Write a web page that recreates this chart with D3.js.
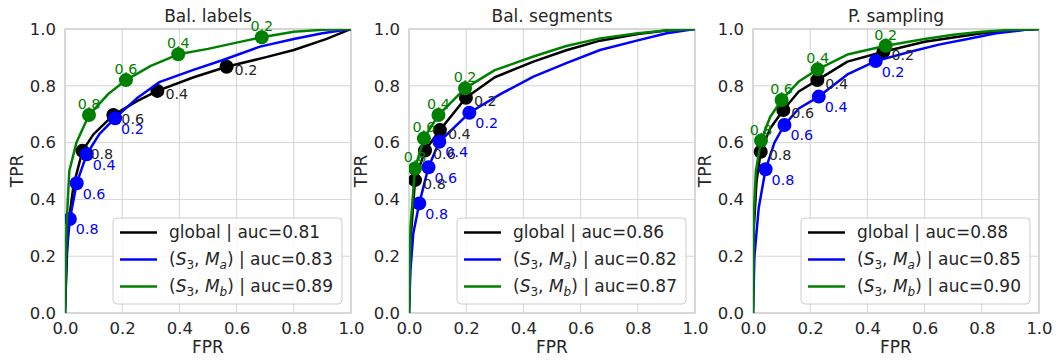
<!DOCTYPE html>
<html>
<head>
<meta charset="utf-8">
<script src="https://cdn.jsdelivr.net/npm/d3@7"></script>
<style>
  body { margin: 0; background: #fff; }
  text { font-family: "DejaVu Sans", sans-serif; }
</style>
</head>
<body>
<div id="chart"></div>
<script>
// ROC curves, [fpr, tpr]
var balLabelsGlobal = [[0,0],[0.01,0.3],[0.03,0.45],[0.061,0.571],[0.1,0.63],[0.169,0.697],[0.25,0.745],[0.323,0.782],[0.45,0.83],[0.565,0.867],[0.7,0.9],[0.8,0.926],[0.915,0.965],[1,1]];
var balLabelsMa = [[0,0],[0.005,0.2],[0.017,0.331],[0.041,0.457],[0.076,0.559],[0.12,0.63],[0.175,0.686],[0.25,0.755],[0.332,0.814],[0.449,0.856],[0.55,0.89],[0.682,0.938],[0.8,0.965],[0.9,0.985],[1,1]];
var balLabelsMb = [[0,0],[0.005,0.3],[0.015,0.5],[0.04,0.6],[0.084,0.697],[0.15,0.77],[0.213,0.82],[0.3,0.87],[0.396,0.911],[0.5,0.93],[0.6,0.952],[0.688,0.971],[0.8,0.99],[0.9,0.997],[1,1]];

var balSegGlobal = [[0,0],[0.005,0.25],[0.021,0.468],[0.056,0.572],[0.108,0.644],[0.199,0.758],[0.3,0.83],[0.435,0.885],[0.55,0.925],[0.668,0.959],[0.8,0.982],[0.9,0.995],[1,1]];
var balSegMa = [[0,0],[0.005,0.15],[0.015,0.28],[0.036,0.386],[0.068,0.513],[0.106,0.603],[0.211,0.705],[0.318,0.77],[0.435,0.832],[0.55,0.88],[0.668,0.926],[0.8,0.96],[0.901,0.985],[1,1]];
var balSegMb = [[0,0],[0.005,0.3],[0.021,0.509],[0.052,0.615],[0.103,0.697],[0.196,0.791],[0.3,0.855],[0.435,0.903],[0.55,0.94],[0.668,0.967],[0.8,0.985],[0.9,0.995],[1,1]];

var pSampGlobal = [[0,0],[0.003,0.3],[0.012,0.46],[0.027,0.568],[0.06,0.65],[0.106,0.715],[0.16,0.78],[0.225,0.82],[0.33,0.885],[0.456,0.92],[0.6,0.955],[0.7,0.97],[0.8,0.985],[0.9,0.995],[1,1]];
var pSampMa = [[0,0],[0.005,0.2],[0.02,0.37],[0.044,0.506],[0.075,0.6],[0.11,0.662],[0.16,0.72],[0.23,0.762],[0.33,0.84],[0.429,0.887],[0.55,0.92],[0.65,0.945],[0.75,0.965],[0.85,0.985],[0.95,0.997],[1,1]];
var pSampMb = [[0,0],[0.003,0.35],[0.01,0.5],[0.028,0.607],[0.06,0.69],[0.1,0.75],[0.16,0.815],[0.226,0.858],[0.33,0.91],[0.464,0.941],[0.6,0.965],[0.7,0.98],[0.8,0.99],[0.9,0.997],[1,1]];

// threshold markers (0.2, 0.4, 0.6, 0.8)
var thresholds = ["0.2", "0.4", "0.6", "0.8"];
var balLabelsGlobalPts = [[0.565,0.867],[0.323,0.782],[0.169,0.697],[0.061,0.571]];
var balLabelsMaPts = [[0.175,0.686],[0.076,0.559],[0.041,0.457],[0.017,0.331]];
var balLabelsMbPts = [[0.688,0.971],[0.396,0.911],[0.213,0.82],[0.084,0.697]];
var balSegGlobalPts = [[0.199,0.758],[0.108,0.644],[0.056,0.572],[0.021,0.468]];
var balSegMaPts = [[0.211,0.705],[0.106,0.603],[0.068,0.513],[0.036,0.386]];
var balSegMbPts = [[0.196,0.791],[0.103,0.697],[0.052,0.615],[0.021,0.509]];
var pSampGlobalPts = [[0.456,0.92],[0.225,0.82],[0.106,0.715],[0.027,0.568]];
var pSampMaPts = [[0.429,0.887],[0.23,0.762],[0.11,0.662],[0.044,0.506]];
var pSampMbPts = [[0.464,0.941],[0.226,0.858],[0.1,0.75],[0.028,0.607]];

var titles = ["Bal. labels", "Bal. segments", "P. sampling"];
var aucGlobal = ["0.81", "0.86", "0.88"];
var aucMa = ["0.83", "0.82", "0.85"];
var aucMb = ["0.89", "0.87", "0.90"];
var tickValues = [0, 0.2, 0.4, 0.6, 0.8, 1.0];

var panels = [
  { curves: [balLabelsGlobal, balLabelsMa, balLabelsMb], pts: [balLabelsGlobalPts, balLabelsMaPts, balLabelsMbPts] },
  { curves: [balSegGlobal, balSegMa, balSegMb], pts: [balSegGlobalPts, balSegMaPts, balSegMbPts] },
  { curves: [pSampGlobal, pSampMa, pSampMb], pts: [pSampGlobalPts, pSampMaPts, pSampMbPts] }
];
var colors = ["#000000", "#0000ff", "#008000"];

var svgWidth = 1058, svgHeight = 362;
var panelLeft = [65, 409, 753];
var marginTop = 29, width = 286, height = 284;
var textColor = "#262626";

var svg = d3.select("#chart").append("svg")
  .attr("width", svgWidth)
  .attr("height", svgHeight);

svg.append("defs").append("clipPath").attr("id", "clip")
  .append("rect").attr("width", width).attr("height", height);

var x = d3.scaleLinear().domain([0, 1]).range([0, width]);
var y = d3.scaleLinear().domain([0, 1]).range([height, 0]);

var line = d3.line()
  .x(d => x(d[0]))
  .y(d => y(d[1]));

// legend label with mathtext-like subscripts
function legendLabel(sel, i, p) {
  var t = sel.append("text").attr("font-size", "17px").attr("fill", textColor).attr("dy", "0.35em");
  if (i == 0) {
    t.append("tspan").text("global | auc=" + aucGlobal[p]);
    return;
  }
  var sub = i == 1 ? "a" : "b";
  var auc = i == 1 ? aucMa[p] : aucMb[p];
  t.append("tspan").text("(");
  t.append("tspan").attr("font-style", "italic").text("S");
  t.append("tspan").attr("font-size", "12px").attr("dy", 4).text("3");
  t.append("tspan").attr("dy", -4).text(", ");
  t.append("tspan").attr("font-style", "italic").text("M");
  t.append("tspan").attr("font-size", "12px").attr("font-style", "italic").attr("dy", 4).text(sub);
  t.append("tspan").attr("dy", -4).text(")");
  t.append("tspan").text(" | auc=" + auc);
}

panels.forEach(function(panel, p) {
  var g = svg.append("g")
    .attr("transform", `translate(${panelLeft[p]}, ${marginTop})`);

  // grid
  g.selectAll(".gx").data(tickValues).enter().append("line")
    .attr("x1", d => x(d)).attr("x2", d => x(d))
    .attr("y1", 0).attr("y2", height)
    .attr("stroke", "#d4d4d4").attr("stroke-width", 1);
  g.selectAll(".gy").data(tickValues).enter().append("line")
    .attr("y1", d => y(d)).attr("y2", d => y(d))
    .attr("x1", 0).attr("x2", width)
    .attr("stroke", "#d4d4d4").attr("stroke-width", 1);

  // axes
  var bottomAxis = d3.axisBottom(x).tickValues(tickValues).tickFormat(d3.format(".1f")).tickSize(0).tickPadding(9);
  var leftAxis = d3.axisLeft(y).tickValues(tickValues).tickFormat(d3.format(".1f")).tickSize(0).tickPadding(9);
  var xa = g.append("g").attr("transform", `translate(0, ${height})`).call(bottomAxis);
  var ya = g.append("g").call(leftAxis);
  [xa, ya].forEach(function(a) {
    a.select(".domain").remove();
    a.selectAll("text").attr("font-size", "16.5px").attr("fill", textColor)
      .attr("font-family", "DejaVu Sans, sans-serif");
  });

  // spines
  g.append("rect").attr("width", width).attr("height", height)
    .attr("fill", "none").attr("stroke", "#cccccc").attr("stroke-width", 1.25);

  var plot = g.append("g").attr("clip-path", "url(#clip)");

  panel.curves.forEach(function(c, i) {
    plot.append("path")
      .datum(c)
      .attr("d", line)
      .attr("fill", "none")
      .attr("stroke", colors[i])
      .attr("stroke-width", 2.5)
      .attr("stroke-linejoin", "round");

    plot.selectAll(".m" + i)
      .data(panel.pts[i])
      .enter()
      .append("circle")
      .attr("cx", d => x(d[0]))
      .attr("cy", d => y(d[1]))
      .attr("r", 7)
      .attr("fill", colors[i]);

    g.selectAll(".t" + i)
      .data(panel.pts[i])
      .enter()
      .append("text")
      .attr("x", d => x(d[0]) + (i == 0 ? 8 : i == 1 ? 6 : 0))
      .attr("y", d => y(d[1]) + (i == 0 ? 8.5 : i == 1 ? 15.5 : -6))
      .attr("text-anchor", i == 2 ? "middle" : "start")
      .attr("font-size", "14.3px")
      .attr("fill", i == 0 ? textColor : colors[i])
      .text((d, k) => thresholds[k]);
  });

  // title and axis labels
  g.append("text")
    .attr("x", width / 2).attr("y", -7)
    .attr("text-anchor", "middle")
    .attr("font-size", "17px")
    .attr("fill", textColor)
    .text(titles[p]);

  g.append("text")
    .attr("x", width / 2).attr("y", height + 40)
    .attr("text-anchor", "middle")
    .attr("font-size", "17px")
    .attr("fill", textColor)
    .text("FPR");

  g.append("text")
    .attr("transform", `translate(-48, ${height / 2}) rotate(-90)`)
    .attr("text-anchor", "middle")
    .attr("dy", "0.35em")
    .attr("font-size", "17px")
    .attr("fill", textColor)
    .text("TPR");

  // legend
  var lw = 229, lh = 86;
  var lg = g.append("g").attr("transform", `translate(${width - 9 - lw}, ${189})`);
  lg.append("rect")
    .attr("width", lw).attr("height", lh).attr("rx", 4)
    .attr("fill", "#ffffff").attr("fill-opacity", 0.8)
    .attr("stroke", "#cccccc").attr("stroke-width", 1);
  [0, 1, 2].forEach(function(i) {
    var row = lg.append("g").attr("transform", `translate(0, ${14.5 + i * 27})`);
    row.append("line")
      .attr("x1", 7).attr("x2", 44)
      .attr("stroke", colors[i]).attr("stroke-width", 2.5);
    legendLabel(row.append("g").attr("transform", "translate(56, 0)"), i, p);
  });
});
</script>
</body>
</html>
